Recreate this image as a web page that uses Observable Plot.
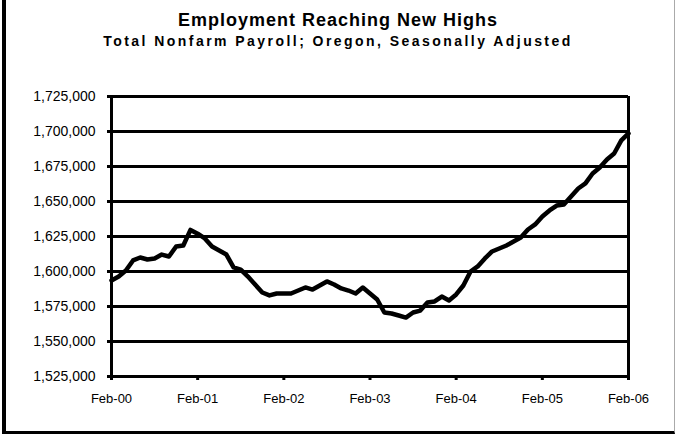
<!DOCTYPE html>
<html>
<head>
<meta charset="utf-8">
<script src="https://cdn.jsdelivr.net/npm/d3@7"></script>
<script src="https://cdn.jsdelivr.net/npm/@observablehq/plot@0.6"></script>
<style>
  html, body { margin: 0; padding: 0; background: #fff; }
  body { position: relative; width: 676px; height: 440px; overflow: hidden; font-family: "Liberation Sans", Arial, sans-serif; }
  #frame { position: absolute; left: 2px; top: 0; width: 668px; height: 431px; border-left: 4px solid #000; border-bottom: 3px solid #000; border-right: 1px solid #aaa; box-sizing: content-box; }
  #chart { position: absolute; left: 0; top: 0; }
  .title { position: absolute; left: 0; width: 676px; text-align: center; font-weight: bold; color: #000; white-space: nowrap; }
  #t1 { top: 10.75px; font-size: 18px; line-height: 18px; letter-spacing: 1px; }
  #t2 { top: 34px; font-size: 14px; line-height: 14px; letter-spacing: 2.45px; }
</style>
</head>
<body>
<div id="frame"></div>
<div id="chart"></div>
<div class="title" id="t1">Employment Reaching New Highs</div>
<div class="title" id="t2">Total Nonfarm Payroll; Oregon, Seasonally Adjusted</div>
<script>
// Monthly total nonfarm payroll, Feb-2000 .. Feb-2006 (index 0 = Feb-00)
const values = [
  1593600, 1596400, 1600700, 1607900, 1610000, 1608600, 1609300, 1612100, 1610700, 1617900, 1618600, 1629700,
  1627000, 1623600, 1617900, 1615000, 1612100, 1602900, 1601400, 1596400, 1590700, 1585000, 1582900, 1584300,
  1584300, 1584300, 1586400, 1588600, 1587100, 1590000, 1592900, 1590700, 1587900, 1586400, 1584300, 1588600,
  1584300, 1580000, 1570700, 1570000, 1568600, 1567100, 1570700, 1572100, 1577900, 1578600, 1582100, 1579300,
  1583600, 1590000, 1600000, 1603600, 1609300, 1614300, 1616400, 1618600, 1621400, 1624300, 1630000, 1633600,
  1639300, 1643600, 1647100, 1647900, 1653600, 1659300, 1662900, 1670000, 1674300, 1680000, 1684300, 1693600,
  1698600
];
const xTicks = [0, 12, 24, 36, 48, 60, 72];
const xTickLabels = ["Feb-00", "Feb-01", "Feb-02", "Feb-03", "Feb-04", "Feb-05", "Feb-06"];
const yTicks = [1525000, 1550000, 1575000, 1600000, 1625000, 1650000, 1675000, 1700000, 1725000];

const data = values.map((v, i) => ({m: i, v}));

const chart = Plot.plot({
  width: 676,
  height: 440,
  marginLeft: 111,
  marginRight: 48,
  marginTop: 96,
  marginBottom: 64,
  style: {background: "transparent", fontFamily: "'Liberation Sans', Arial, sans-serif", fontSize: "14px", color: "#000", overflow: "visible"},
  x: {domain: [0, 72], label: null},
  y: {domain: [1525000, 1725000], label: null},
  marks: [
    Plot.ruleY(yTicks, {stroke: "#000", strokeWidth: 3, strokeOpacity: 1}),
    Plot.ruleX([0, 72], {stroke: "#000", strokeWidth: 3, strokeOpacity: 1}),
    Plot.axisY({ticks: yTicks, tickFormat: d3.format(","), tickSize: 4, tickPadding: 12, strokeWidth: 3, strokeOpacity: 1, fontSize: 14, fill: "#000", label: null}),
    Plot.axisX({ticks: xTicks, tickFormat: d => xTickLabels[xTicks.indexOf(d)], tickSize: 4, tickPadding: 13, strokeWidth: 3, strokeOpacity: 1, fontSize: 13, fill: "#000", label: null}),
    Plot.line(data, {x: "m", y: "v", stroke: "#000", strokeWidth: 4.5, strokeLinejoin: "round", strokeLinecap: "round"})
  ]
});
document.getElementById("chart").appendChild(chart);
</script>
</body>
</html>
